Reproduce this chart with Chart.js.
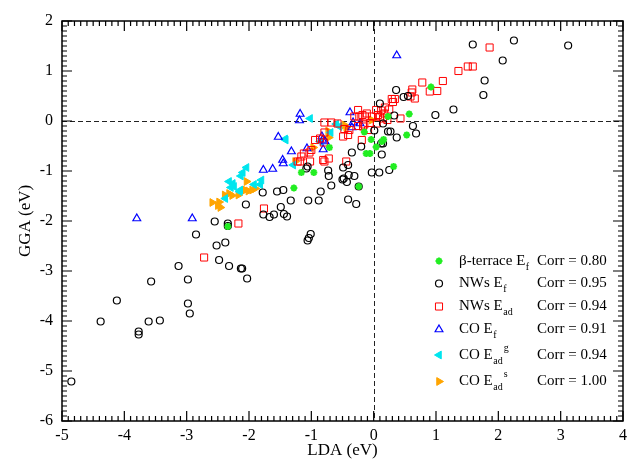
<!DOCTYPE html>
<html>
<head>
<meta charset="utf-8">
<script src="https://cdn.jsdelivr.net/npm/chart.js"></script>
<style>
  body { margin: 0; background: #fff; }
  #wrap { width: 632px; height: 462px; }
</style>
</head>
<body>
<div id="wrap"><canvas id="myChart" width="632" height="462"></canvas></div>
<script>
// LDA (x) vs GGA (y), eV
const terraceEf = [[-2.34,-2.11],[-1.28,-1.34],[-1.16,-1.03],[-0.96,-1.03],[-0.71,-0.53],[-0.24,-1.31],
  [-0.15,-0.22],[-0.12,-0.65],[-0.06,-0.65],[-0.04,-0.37],[0.04,-0.52],[0.13,-0.41],[0.16,-0.37],
  [0.23,0.09],[0.32,-0.91],[0.53,-0.28],[0.57,0.14],[0.92,0.68]];

const nwsEf = [[-4.85,-5.21],[-4.38,-4.01],[-4.12,-3.59],[-3.77,-4.21],[-3.77,-4.27],[-3.61,-4.01],
  [-3.57,-3.21],[-3.43,-3.99],[-3.13,-2.90],[-2.98,-3.17],[-2.98,-3.65],[-2.95,-3.85],[-2.85,-2.27],
  [-2.55,-2.01],[-2.52,-2.49],[-2.48,-2.78],[-2.38,-2.43],[-2.34,-2.05],[-2.34,-2.10],[-2.32,-2.90],
  [-2.13,-2.95],[-2.11,-2.95],[-2.05,-1.67],[-2.03,-3.15],[-1.78,-1.43],[-1.77,-1.87],[-1.67,-1.92],
  [-1.60,-1.87],[-1.55,-1.41],[-1.49,-1.72],[-1.45,-1.38],[-1.44,-1.86],[-1.39,-1.91],[-1.33,-1.59],
  [-1.06,-2.39],[-1.04,-2.34],[-1.01,-2.26],[-1.05,-1.59],[-0.88,-1.59],[-0.85,-1.41],[-1.06,-0.91],
  [-1.08,-0.95],[-0.73,-0.99],[-0.72,-1.10],[-0.68,-1.29],[-0.50,-1.17],[-0.48,-1.15],[-0.43,-1.22],
  [-0.49,-0.93],[-0.41,-0.88],[-0.40,-1.08],[-0.31,-1.10],[-0.41,-1.57],[-0.28,-1.66],[-0.24,-1.31],
  [-0.35,-0.63],[-0.20,-0.51],[-0.03,-1.03],[0.09,-1.03],[0.25,-0.98],[0.12,-0.45],[0.15,-0.45],
  [0.13,-0.67],[0.01,-0.19],[0.15,-0.05],[0.23,-0.21],[0.27,-0.21],[0.37,-0.33],[0.63,-0.10],
  [0.68,-0.25],[0.33,0.11],[0.10,0.35],[0.36,0.62],[0.48,0.48],[0.55,0.50],[0.99,0.12],[1.28,0.23],
  [1.76,0.52],[1.78,0.81],[2.07,1.21],[1.59,1.53],[2.25,1.61],[3.12,1.51]];

const nwsEad = [[-2.72,-2.73],[-2.17,-2.05],[-1.76,-1.75],[-1.22,-0.81],[-1.18,-0.81],[-1.16,-0.71],
  [-1.12,-0.65],[-1.02,-0.81],[-1.00,-0.58],[-1.03,-0.63],[-0.94,-0.38],[-0.86,-0.35],[-0.80,-0.43],
  [-0.79,-0.23],[-0.79,-0.81],[-0.81,-0.78],[-0.72,-0.75],[-0.79,-0.03],[-0.68,-0.03],[-0.58,-0.05],
  [-0.49,-0.31],[-0.41,-0.28],[-0.47,-0.16],[-0.39,-0.18],[-0.44,-0.81],[-0.31,0.09],[-0.23,0.09],
  [-0.14,0.09],[-0.25,-0.10],[-0.15,-0.07],[-0.06,-0.04],[-0.19,-0.38],[0.04,0.22],[0.12,0.21],
  [0.17,0.15],[0.10,0.09],[0.18,0.27],[0.25,0.23],[0.29,0.44],[0.34,0.44],[0.31,0.38],[0.43,0.05],
  [0.59,0.49],[0.61,0.57],[0.66,0.45],[0.62,0.63],[0.78,0.77],[0.90,0.59],[1.02,0.60],[1.11,0.80],
  [1.36,1.00],[1.51,1.09],[1.59,1.09],[1.86,1.47],[-0.25,0.22],[-0.18,0.12],[-0.11,0.15],[-0.03,0.09],
  [0.07,0.12],[0.15,0.05],[-0.17,-0.11],[-0.09,-0.18],[0.05,-0.05],[0.22,0.02]];

const coEf = [[-3.80,-1.95],[-2.91,-1.95],[-1.77,-0.98],[-1.62,-0.96],[-1.53,-0.32],[-1.46,-0.78],
  [-1.45,-0.85],[-1.32,-0.61],[-1.18,0.14],[-1.19,0.01],[-1.07,-0.55],[-0.82,-0.38],[-0.78,-0.41],
  [-0.81,-0.57],[-0.83,-0.31],[-0.38,0.17],[-0.35,-0.13],[-0.33,-0.03],[-0.22,-0.05],[0.37,1.31]];

const coEadG = [[-2.38,-1.55],[-2.32,-1.21],[-2.26,-1.25],[-2.24,-1.31],[-2.29,-1.33],[-2.14,-1.38],
  [-2.15,-1.41],[-2.13,-1.10],[-2.10,-1.03],[-2.04,-0.93],[-1.92,-1.27],[-1.82,-1.27],[-1.80,-1.18],
  [-1.41,-0.38],[-1.42,-0.36],[-1.29,-0.88],[-1.02,0.05],[-0.86,-0.41],[-0.69,-0.23],[-0.55,-0.11],
  [-0.60,-0.06]];

const coEadS = [[-2.59,-1.63],[-2.48,-1.62],[-2.46,-1.73],[-2.50,-1.69],[-2.39,-1.48],[-2.32,-1.45],
  [-2.27,-1.49],[-2.17,-1.48],[-2.06,-1.38],[-2.01,-1.40],[-1.95,-1.38],[-1.90,-1.35],[-2.04,-1.21],
  [-1.26,-0.81],[-0.97,-0.53],[-0.72,-0.33],[-0.73,-0.20],[-0.47,-0.08],[-0.44,-0.13],[-0.03,0.02]];

const xRange = [-5, 4];
const yRange = [-6, 2];

// legend text: main text, subscript, superscript, correlation
const legendMain = ["β-terrace E", "NWs E", "NWs E", "CO E", "CO E", "CO E"];
const legendSub = ["f", "f", "ad", "f", "ad", "ad"];
const legendSup = ["", "", "", "", "g", "s"];
const legendCorr = ["Corr = 0.80", "Corr = 0.95", "Corr = 0.94", "Corr = 0.91", "Corr = 0.94", "Corr = 1.00"];

const SERIF = '"Liberation Serif", "Times New Roman", serif';
const toPts = (arr) => arr.map((p) => ({ x: p[0], y: p[1] }));

const datasets = [
  { data: toPts(terraceEf), pointStyle: "star", pointRadius: 3.5, borderWidth: 2,
    borderColor: "#22ee22", backgroundColor: "#22ee22" },
  { data: toPts(nwsEf), pointStyle: "circle", pointRadius: 3.5, borderWidth: 1.2,
    borderColor: "#000", backgroundColor: "rgba(0,0,0,0)" },
  { data: toPts(nwsEad), pointStyle: "rect", pointRadius: 5, borderWidth: 1,
    borderColor: "#ff0000", backgroundColor: "rgba(0,0,0,0)" },
  { data: toPts(coEf), pointStyle: "triangle", pointRadius: 4.5, borderWidth: 1.2,
    borderColor: "#0000ff", backgroundColor: "rgba(0,0,0,0)" },
  { data: toPts(coEadG), pointStyle: "triangle", pointRadius: 4.5, pointRotation: -90, borderWidth: 1,
    borderColor: "#00e5ee", backgroundColor: "#00e5ee" },
  { data: toPts(coEadS), pointStyle: "triangle", pointRadius: 4.5, pointRotation: 90, borderWidth: 1,
    borderColor: "#ffa500", backgroundColor: "#ffa500" },
];

const drawMarker = (ctx, ds, x, y) => {
  ctx.save();
  ctx.strokeStyle = ds.borderColor;
  ctx.fillStyle = ds.backgroundColor;
  ctx.lineWidth = ds.borderWidth;
  Chart.helpers.drawPoint(ctx, {
    pointStyle: ds.pointStyle, radius: ds.pointRadius,
    rotation: ds.pointRotation || 0, borderWidth: ds.borderWidth,
  }, x, y);
  ctx.restore();
};

// dashed zero lines under the points
const zeroLinePlugin = {
  id: "zeroLines",
  beforeDatasetsDraw: (chart) => {
    const { ctx, chartArea: ca, scales } = chart;
    ctx.save();
    ctx.strokeStyle = "#222";
    ctx.lineWidth = 1;
    ctx.setLineDash([5, 3]);
    const x0 = Math.round(scales.x.getPixelForValue(0)) + 0.5;
    const y0 = Math.round(scales.y.getPixelForValue(0)) + 0.5;
    ctx.beginPath();
    ctx.moveTo(ca.left, y0); ctx.lineTo(ca.right, y0);
    ctx.moveTo(x0, ca.top); ctx.lineTo(x0, ca.bottom);
    ctx.stroke();
    ctx.restore();
  },
};

// frame with inward major/minor ticks on all four sides, and the legend
const framePlugin = {
  id: "frame",
  afterDraw: (chart) => {
    const { ctx, chartArea: ca, scales } = chart;
    ctx.save();
    ctx.strokeStyle = "#000";
    ctx.lineWidth = 1.2;
    ctx.beginPath();
    for (let i = xRange[0] * 10; i <= xRange[1] * 10; i++) {
      const px = scales.x.getPixelForValue(i / 10);
      const len = i % 10 === 0 ? 10 : 5;
      ctx.moveTo(px, ca.bottom);
      ctx.lineTo(px, ca.bottom - len);
      ctx.moveTo(px, ca.top);
      ctx.lineTo(px, ca.top + len);
    }
    for (let i = yRange[0] * 10; i <= yRange[1] * 10; i++) {
      const py = scales.y.getPixelForValue(i / 10);
      const len = i % 10 === 0 ? 10 : 5;
      ctx.moveTo(ca.left, py);
      ctx.lineTo(ca.left + len, py);
      ctx.moveTo(ca.right, py);
      ctx.lineTo(ca.right - len, py);
    }
    ctx.stroke();
    ctx.lineWidth = 1.5;
    ctx.strokeRect(ca.left, ca.top, ca.right - ca.left, ca.bottom - ca.top);

    const rowY = [261, 283.5, 306.5, 329.5, 355, 381.5];
    ctx.textBaseline = "middle";
    legendMain.forEach((txt, i) => {
      const y = rowY[i];
      drawMarker(ctx, datasets[i], 439, y);
      ctx.fillStyle = "#000";
      ctx.font = "15px " + SERIF;
      ctx.fillText(txt, 459, y);
      const x = 459 + ctx.measureText(txt).width + 0.5;
      ctx.font = "10px " + SERIF;
      ctx.fillText(legendSub[i], x, y + 6);
      const subW = ctx.measureText(legendSub[i]).width;
      if (legendSup[i]) ctx.fillText(legendSup[i], x + subW + 1, y - 7);
      ctx.font = "15px " + SERIF;
      ctx.fillText(legendCorr[i], 537, y);
    });
    ctx.restore();
  },
};

window.onload = () => {
  const config = {
    type: "scatter",
    data: { datasets: datasets },
    options: {
      responsive: false,
      animation: false,
      layout: { padding: { left: 0, right: 6, top: 21, bottom: 0 } },
      plugins: { legend: { display: false }, tooltip: { enabled: false } },
      scales: {
        x: {
          min: xRange[0], max: xRange[1],
          grid: { display: false, drawTicks: false },
          border: { display: false },
          ticks: { stepSize: 1, padding: 5, color: "#000", font: { family: SERIF, size: 16 } },
          title: { display: true, text: "LDA (eV)", color: "#000", padding: { top: 0, bottom: 1 },
            font: { family: SERIF, size: 17 } },
          afterFit: (scale) => { scale.height = 41; },
        },
        y: {
          min: yRange[0], max: yRange[1],
          grid: { display: false, drawTicks: false },
          border: { display: false },
          ticks: { stepSize: 1, padding: 9, color: "#000", font: { family: SERIF, size: 16 } },
          title: { display: true, text: "GGA (eV)", color: "#000", padding: { top: 15, bottom: 0 },
            font: { family: SERIF, size: 17 } },
          afterFit: (scale) => { scale.width = 62; },
        },
      },
    },
    plugins: [zeroLinePlugin, framePlugin],
  };
  const myChart = new Chart(document.getElementById("myChart"), config);
};
</script>
</body>
</html>
